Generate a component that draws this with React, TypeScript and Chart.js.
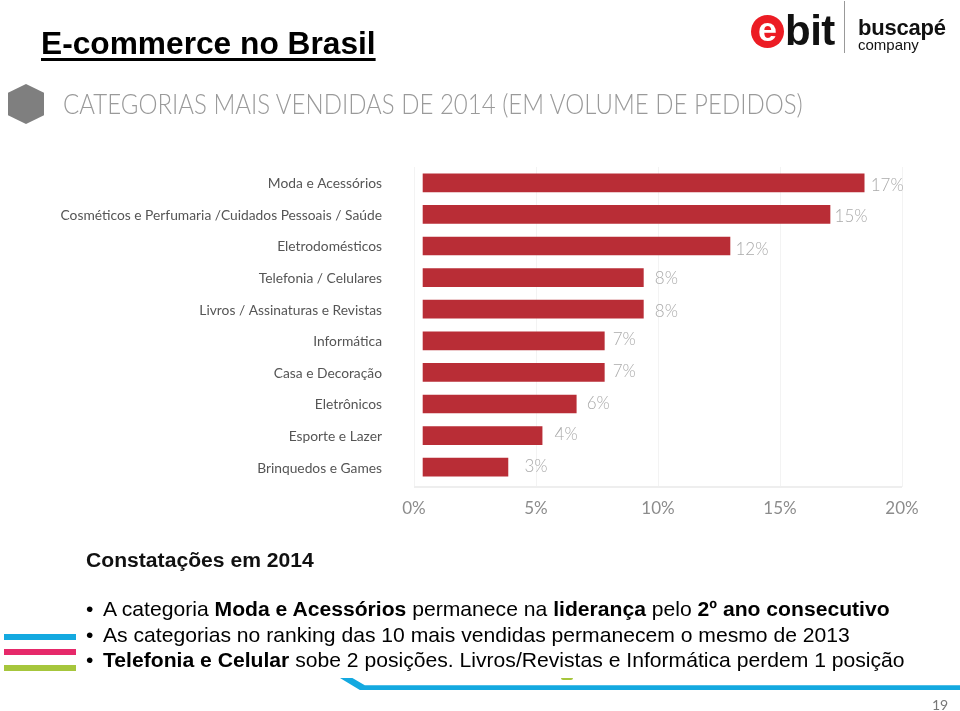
import React, { useEffect, useRef } from "react";
import { Chart, registerables } from "chart.js";

Chart.register(...registerables);

const categories = [
  "Moda e Acessórios",
  "Cosméticos e Perfumaria /Cuidados Pessoais / Saúde",
  "Eletrodomésticos",
  "Telefonia / Celulares",
  "Livros / Assinaturas e Revistas",
  "Informática",
  "Casa e Decoração",
  "Eletrônicos",
  "Esporte e Lazer",
  "Brinquedos e Games",
];
const barEnds = [18.45, 17.05, 12.95, 9.4, 9.4, 7.8, 7.8, 6.65, 5.25, 3.85];
const barStart = 0.37;
const valueLabels = ["17%", "15%", "12%", "8%", "8%", "7%", "7%", "6%", "4%", "3%"];
const xTicks = ["0%", "5%", "10%", "15%", "20%"];

const SANS = '"Liberation Sans", Arial, sans-serif';
const THIN = 'Lato, "Open Sans", sans-serif';

const labelGaps = [23, 21, 22, 23, 23, 20, 20, 22, 24, 28];
const labelNudge = [3, 2, 4, 1, 2, -1, -1, 0, -1, -1];

const annotate = {
  id: "annotate",
  afterDatasetsDraw(chart: any) {
    const { ctx, scales } = chart;
    const x = scales.x;
    const y = scales.y;
    ctx.save();
    ctx.fillStyle = "#eeeeee";
    ctx.fillRect(x.left, y.bottom + 3, x.right - x.left, 2);
    ctx.fillStyle = "#aaaaaa";
    ctx.font = `300 17px ${THIN}`;
    ctx.textAlign = "center";
    ctx.textBaseline = "middle";
    valueLabels.forEach((label, i) => {
      ctx.fillText(
        label,
        x.getPixelForValue(barEnds[i]) + labelGaps[i],
        y.getPixelForValue(i) + labelNudge[i]
      );
    });
    ctx.restore();
  },
};

function Txt({ x, y, children, style }: any) {
  return (
    <div style={{ position: "absolute", left: x, top: y, whiteSpace: "nowrap", ...style }}>{children}</div>
  );
}

const bulletStyle = { fontFamily: SANS, fontSize: 21.14, lineHeight: "24px", color: "#000" };

export default function App() {
  const ref = useRef<HTMLCanvasElement>(null);
  useEffect(() => {
    const chart = new Chart(ref.current as HTMLCanvasElement, {
      type: "bar",
      data: {
        labels: categories,
        datasets: [
          {
            data: barEnds,
            base: barStart,
            backgroundColor: "#b92d36",
            barThickness: 18,
          } as any,
        ],
      },
      options: {
        indexAxis: "y",
        animation: false,
        responsive: false,
        layout: { padding: { top: 167, right: 58, left: 0, bottom: 0 } },
        plugins: { legend: { display: false }, title: { display: false }, tooltip: { enabled: false } },
        scales: {
          x: {
            type: "linear",
            min: 0,
            max: 20,
            afterFit: (s: any) => {
              s.height = 228;
            },
            border: { display: false },
            grid: { color: "#f3f3f3", tickLength: 4, tickColor: "#f3f3f3" },
            ticks: {
              stepSize: 5,
              maxRotation: 0,
              padding: 11,
              color: "#8c8c8c",
              font: { family: THIN, size: 17 },
              callback: (_v: any, i: number) => xTicks[i],
            },
          },
          y: {
            type: "category",
            afterFit: (s: any) => {
              s.width = 414;
            },
            border: { display: false },
            grid: { display: false, drawTicks: false },
            ticks: {
              padding: 32,
              autoSkip: false,
              labelOffset: 1,
              color: "#555555",
              font: { family: THIN, size: 13.8 },
            },
          },
        },
      },
      plugins: [annotate],
    } as any);
    return () => chart.destroy();
  }, []);

  return (
    <div style={{ position: "absolute", left: 0, top: 0, width: 960, height: 711, background: "#fff", overflow: "hidden" }}>
      <canvas ref={ref} width={960} height={711} style={{ position: "absolute", left: 0, top: 0, display: "block" }} />

      <Txt x={41} y={26} style={{ fontFamily: SANS, fontWeight: 700, fontSize: 31.7, lineHeight: "34px", color: "#000", textDecoration: "underline", textUnderlineOffset: 4 }}>
        E-commerce no Brasil
      </Txt>

      <div style={{ position: "absolute", left: 8, top: 84, width: 36, height: 40, background: "#7f7f7f", clipPath: "polygon(50% 0,100% 22%,100% 78%,50% 100%,0 78%,0 22%)" }} />
      <Txt x={63} y={87} style={{ fontFamily: THIN, fontWeight: 300, fontSize: 27, lineHeight: "34px", color: "#9a9a9a", transform: "scaleX(0.89)", transformOrigin: "left center" }}>
        CATEGORIAS MAIS VENDIDAS DE 2014 (EM VOLUME DE PEDIDOS)
      </Txt>

      <div style={{ position: "absolute", left: 751, top: 15, width: 33, height: 33, borderRadius: "50%", background: "#ec1c24", color: "#fff", fontFamily: SANS, fontWeight: 700, fontSize: 34, lineHeight: "29px", textAlign: "center" }}>e</div>
      <Txt x={785} y={8} style={{ fontFamily: SANS, fontWeight: 700, fontSize: 42, lineHeight: "46px", color: "#111", letterSpacing: -0.5 }}>bit</Txt>
      <div style={{ position: "absolute", left: 844, top: 1, width: 1, height: 52, background: "#999" }} />
      <Txt x={858} y={15} style={{ fontFamily: SANS, fontWeight: 700, fontSize: 22, lineHeight: "26px", color: "#111", letterSpacing: -0.2 }}>buscapé</Txt>
      <Txt x={858} y={36} style={{ fontFamily: SANS, fontSize: 15, lineHeight: "18px", color: "#111" }}>company</Txt>

      <Txt x={86} y={548} style={{ ...bulletStyle, fontWeight: 700, color: "#111" }}>Constatações em 2014</Txt>

      <Txt x={86} y={597} style={bulletStyle}>•</Txt>
      <Txt x={103} y={597} style={bulletStyle}>
        A categoria <b>Moda e Acessórios</b> permanece na <b>liderança</b> pelo <b>2º ano consecutivo</b>
      </Txt>
      <Txt x={86} y={623} style={bulletStyle}>•</Txt>
      <Txt x={103} y={623} style={bulletStyle}>
        As categorias no ranking das 10 mais vendidas permanecem o mesmo de 2013
      </Txt>
      <Txt x={86} y={648} style={bulletStyle}>•</Txt>
      <Txt x={103} y={648} style={bulletStyle}>
        <b>Telefonia e Celular</b> sobe 2 posições. Livros/Revistas e Informática perdem 1 posição
      </Txt>

      <div style={{ position: "absolute", left: 4, top: 634, width: 72, height: 6, background: "#14a9e0" }} />
      <div style={{ position: "absolute", left: 4, top: 649, width: 72, height: 6, background: "#e6296a" }} />
      <div style={{ position: "absolute", left: 4, top: 665, width: 72, height: 6, background: "#a6c63c" }} />
      <div style={{ position: "absolute", left: 340, top: 678, width: 620, height: 12, background: "#14a9e0", clipPath: "polygon(0 0,2% 0,4% 60%,100% 60%,100% 100%,3.2% 100%)" }} />
      <div style={{ position: "absolute", left: 561, top: 678, width: 12, height: 2, background: "#a6c63c", borderRadius: "0 0 6px 6px" }} />
      <Txt x={932} y={697} style={{ fontFamily: THIN, fontSize: 14, lineHeight: "16px", color: "#777" }}>19</Txt>
    </div>
  );
}
